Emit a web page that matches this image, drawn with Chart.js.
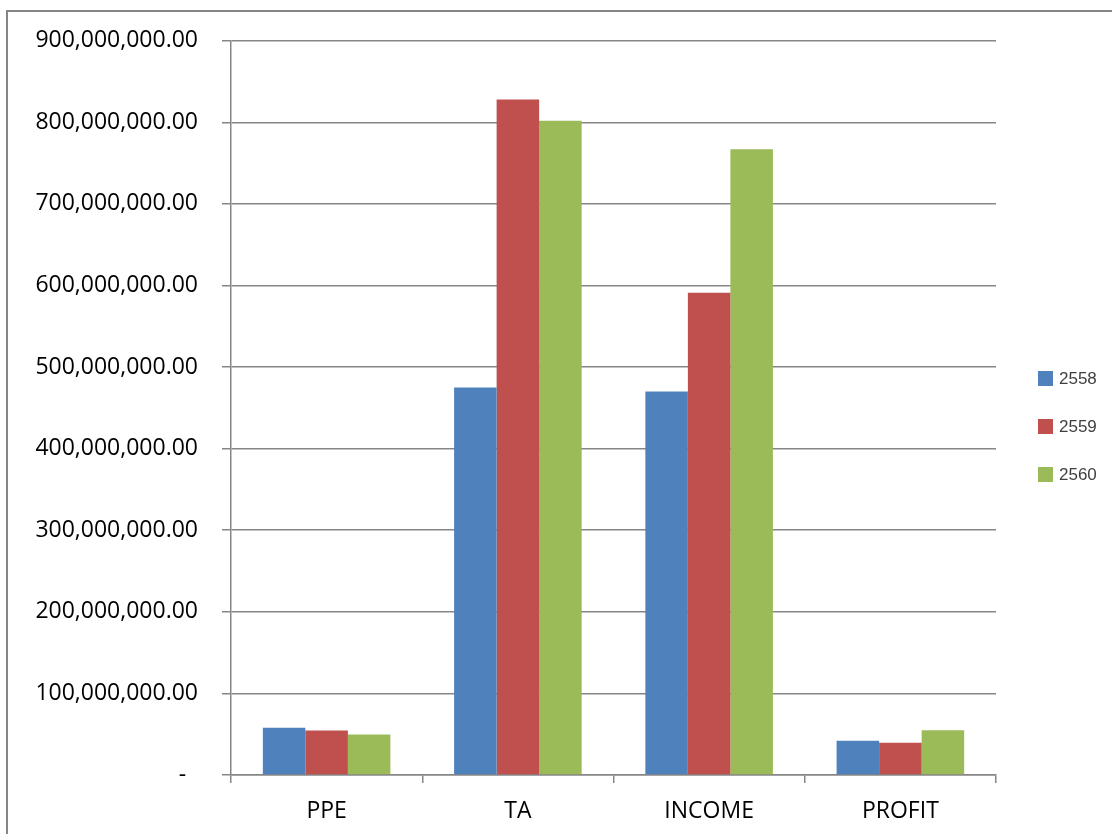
<!DOCTYPE html>
<html>
<head>
<meta charset="utf-8">
<script src="https://cdn.jsdelivr.net/npm/chart.js@4/dist/chart.umd.min.js"></script>
<style>
  html, body { margin: 0; padding: 0; background: #ffffff; }
  #wrap { width: 1112px; height: 834px; position: relative; }
</style>
</head>
<body>
<div id="wrap"><canvas id="chart" width="1112" height="834"></canvas></div>
<script>
// Categories and yearly figures (Thai Buddhist-era years)
const categories = ['PPE', 'TA', 'INCOME', 'PROFIT'];
const years = ['2558', '2559', '2560'];
const values2558 = [58000000, 475000000, 470000000, 42000000];
const values2559 = [54500000, 828000000, 591000000, 39500000];
const values2560 = [49500000, 802000000, 767000000, 55000000];
const yTicks = [0, 100000000, 200000000, 300000000, 400000000, 500000000, 600000000, 700000000, 800000000, 900000000];

const seriesColors = ['#4F81BD', '#C0504D', '#9BBB59'];
const axisGrey = '#868686';

function formatAmount(v) {
  if (v === 0) return '-\u00A0\u00A0';
  return v.toLocaleString('en-US', { minimumFractionDigits: 2, maximumFractionDigits: 2 });
}

// Outer frame around the whole chart
const framePlugin = {
  id: 'frame',
  beforeDraw(chart) {
    const ctx = chart.ctx;
    ctx.save();
    ctx.fillStyle = '#ffffff';
    ctx.fillRect(0, 0, chart.width, chart.height);
    ctx.strokeStyle = axisGrey;
    ctx.lineWidth = 2;
    ctx.strokeRect(7, 11, chart.width + 50, chart.height + 50);
    ctx.restore();
  }
};

// Series key drawn to the right of the plot
const seriesKeyPlugin = {
  id: 'seriesKey',
  afterDraw(chart, args, opts) {
    const ctx = chart.ctx;
    ctx.save();
    ctx.font = '17px "Liberation Sans", Arial, sans-serif';
    ctx.textBaseline = 'middle';
    ctx.textAlign = 'left';
    chart.data.datasets.forEach((ds, i) => {
      const y = opts.top + i * opts.step;
      ctx.fillStyle = ds.backgroundColor;
      ctx.fillRect(opts.left, y, 15, 15);
      ctx.fillStyle = '#404040';
      ctx.fillText(ds.label, opts.left + 21, y + 8);
    });
    ctx.restore();
  }
};

new Chart(document.getElementById('chart'), {
  type: 'bar',
  data: {
    labels: categories,
    datasets: [
      { label: years[0], data: values2558, backgroundColor: seriesColors[0] },
      { label: years[1], data: values2559, backgroundColor: seriesColors[1] },
      { label: years[2], data: values2560, backgroundColor: seriesColors[2] }
    ]
  },
  options: {
    responsive: false,
    animation: false,
    devicePixelRatio: 1,
    layout: { padding: { left: 0, right: 116, top: 40.7, bottom: 0 } },
    datasets: { bar: { categoryPercentage: 0.667, barPercentage: 1.0 } },
    plugins: {
      legend: { display: false },
      tooltip: { enabled: false },
      seriesKey: { left: 1038, top: 371, step: 48 }
    },
    scales: {
      x: {
        grid: {
          offset: true,
          drawOnChartArea: false,
          drawTicks: true,
          tickLength: 8,
          color: axisGrey,
          lineWidth: 1.5
        },
        border: { display: true, color: axisGrey, width: 1.5 },
        ticks: {
          color: '#000000',
          font: { family: '"Open Sans", sans-serif', size: 23 },
          padding: 15,
          maxRotation: 0
        },
        afterFit(scale) { scale.height = 59; }
      },
      y: {
        min: 0,
        max: 900000000,
        afterBuildTicks(scale) { scale.ticks = yTicks.map(v => ({ value: v })); },
        grid: {
          color: axisGrey,
          lineWidth: 1.5,
          drawTicks: true,
          tickLength: 9
        },
        border: { display: true, color: axisGrey, width: 1.5 },
        ticks: {
          color: '#000000',
          font: { family: '"Open Sans", sans-serif', size: 23 },
          padding: 24,
          callback: (v) => formatAmount(v)
        },
        afterFit(scale) { scale.width = 231; }
      }
    }
  },
  plugins: [framePlugin, seriesKeyPlugin]
});
</script>
</body>
</html>
